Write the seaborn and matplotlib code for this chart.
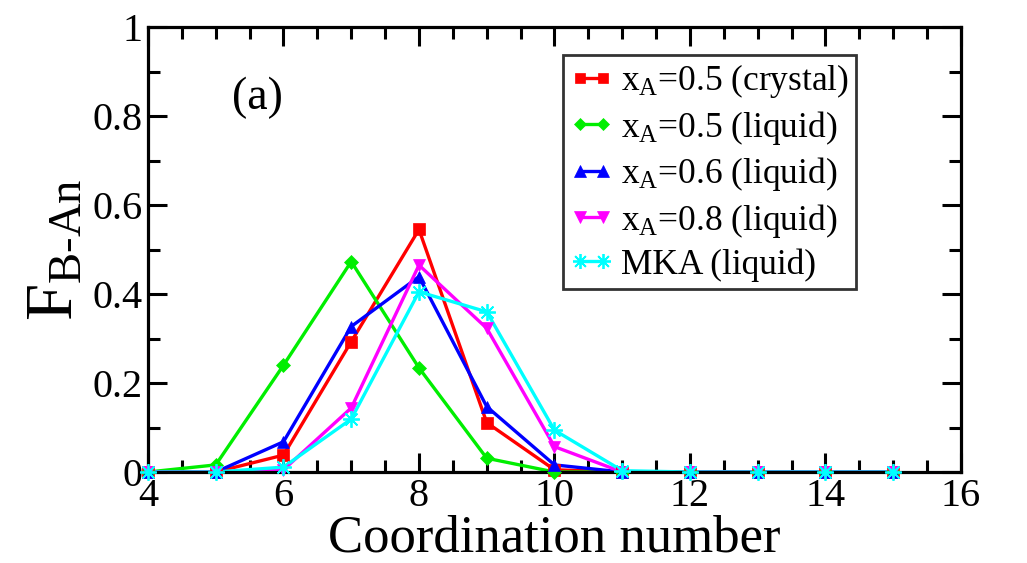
import matplotlib
matplotlib.use("Agg")
import matplotlib.pyplot as plt
import seaborn as sns
import pandas as pd
from matplotlib.lines import Line2D
from matplotlib.ticker import MultipleLocator, FuncFormatter

coord = [4, 5, 6, 7, 8, 9, 10, 11, 12, 13, 14, 15]
cryst_05 = [0.0, 0.0, 0.038, 0.293, 0.545, 0.111, 0.005, 0.0, 0.0, 0.0, 0.0, 0.0]
liq_05 = [0.0, 0.016, 0.240, 0.473, 0.234, 0.031, 0.0, 0.0, 0.0, 0.0, 0.0, 0.0]
liq_06 = [0.0, 0.0, 0.068, 0.327, 0.439, 0.147, 0.016, 0.0, 0.0, 0.0, 0.0, 0.0]
liq_08 = [0.0, 0.0, 0.005, 0.144, 0.465, 0.323, 0.057, 0.0, 0.0, 0.0, 0.0, 0.0]
mka = [0.0, 0.0, 0.011, 0.119, 0.405, 0.360, 0.094, 0.003, 0.0, 0.0, 0.0, 0.0]

labels = [r"x$_\mathregular{A}$=0.5 (crystal)", r"x$_\mathregular{A}$=0.5 (liquid)",
          r"x$_\mathregular{A}$=0.6 (liquid)", r"x$_\mathregular{A}$=0.8 (liquid)",
          "MKA (liquid)"]
series = [cryst_05, liq_05, liq_06, liq_08, mka]
colors = ["#ff0000", "#00ee00", "#0000ff", "#ff00ff", "#00ffff"]
markers = ["s", "D", "^", "v", (8, 2, 0)]
msizes = [8, 7, 9, 9, 12]

sns.set_theme(style="white")
plt.rcParams["font.family"] = ["Liberation Serif", "DejaVu Serif"]
plt.rcParams["mathtext.fontset"] = "custom"
plt.rcParams["mathtext.rm"] = "Liberation Serif"
plt.rcParams["mathtext.it"] = "Liberation Serif:italic"
plt.rcParams["text.color"] = "black"
plt.rcParams["axes.labelcolor"] = "black"
plt.rcParams["xtick.color"] = "black"
plt.rcParams["ytick.color"] = "black"

fig = plt.figure(figsize=(10.27, 5.63), dpi=100)
ax = fig.add_axes([0.1441, 0.1616, 0.7916, 0.7904])

handles = []
for lab, vals, c, m, ms in zip(labels, series, colors, markers, msizes):
    df = pd.DataFrame({"x": coord, "y": vals})
    sns.lineplot(data=df, x="x", y="y", ax=ax, color=c, linewidth=2.4, zorder=2)
    mew = 1.3 if isinstance(m, tuple) else 0.5
    sns.lineplot(data=df, x="x", y="y", ax=ax, color=c, linestyle="none", marker=m,
                 markersize=ms, markeredgecolor=c, markeredgewidth=mew,
                 zorder=3, clip_on=False)
    handles.append(Line2D([0], [0], color=c, lw=2.4, marker=m, markersize=ms * 0.9,
                          markeredgecolor=c, markeredgewidth=mew))

ax.set_xlim(4, 16)
ax.set_ylim(0, 1)
ax.xaxis.set_major_locator(MultipleLocator(2))
ax.xaxis.set_minor_locator(MultipleLocator(0.5))
ax.yaxis.set_major_locator(MultipleLocator(0.2))
ax.yaxis.set_minor_locator(MultipleLocator(0.1))
ax.yaxis.set_major_formatter(FuncFormatter(lambda v, p: f"{v:g}"))

for s in ax.spines.values():
    s.set_linewidth(2.3)
    s.set_color("black")
    s.set_zorder(2.5)

ax.tick_params(which="both", direction="in", top=True, right=True, bottom=True, left=True,
               width=2.2, color="black", labelcolor="black", labelsize=29, pad=4)
ax.tick_params(which="major", length=14)
ax.tick_params(which="minor", length=8.5)

ax.set_xlabel("Coordination number", fontsize=38, labelpad=0)
ax.set_ylabel(r"$\mathregular{F_{B\text{-}An}}$", fontsize=48, labelpad=4)

ax.text(0.135, 0.84, "(a)", transform=ax.transAxes, fontsize=33, ha="center", va="center")

leg = ax.legend(handles, labels, loc="upper left", bbox_to_anchor=(0.51, 0.937),
                borderaxespad=0, fontsize=25.5, frameon=True, fancybox=False,
                numpoints=2, handlelength=1.25, handletextpad=0.2, labelspacing=0.24,
                borderpad=0.2)
leg.get_frame().set_edgecolor("black")
leg.get_frame().set_linewidth(2.0)
for t in leg.get_texts():
    t.set_color("black")

fig.savefig("out.png", dpi=100)
